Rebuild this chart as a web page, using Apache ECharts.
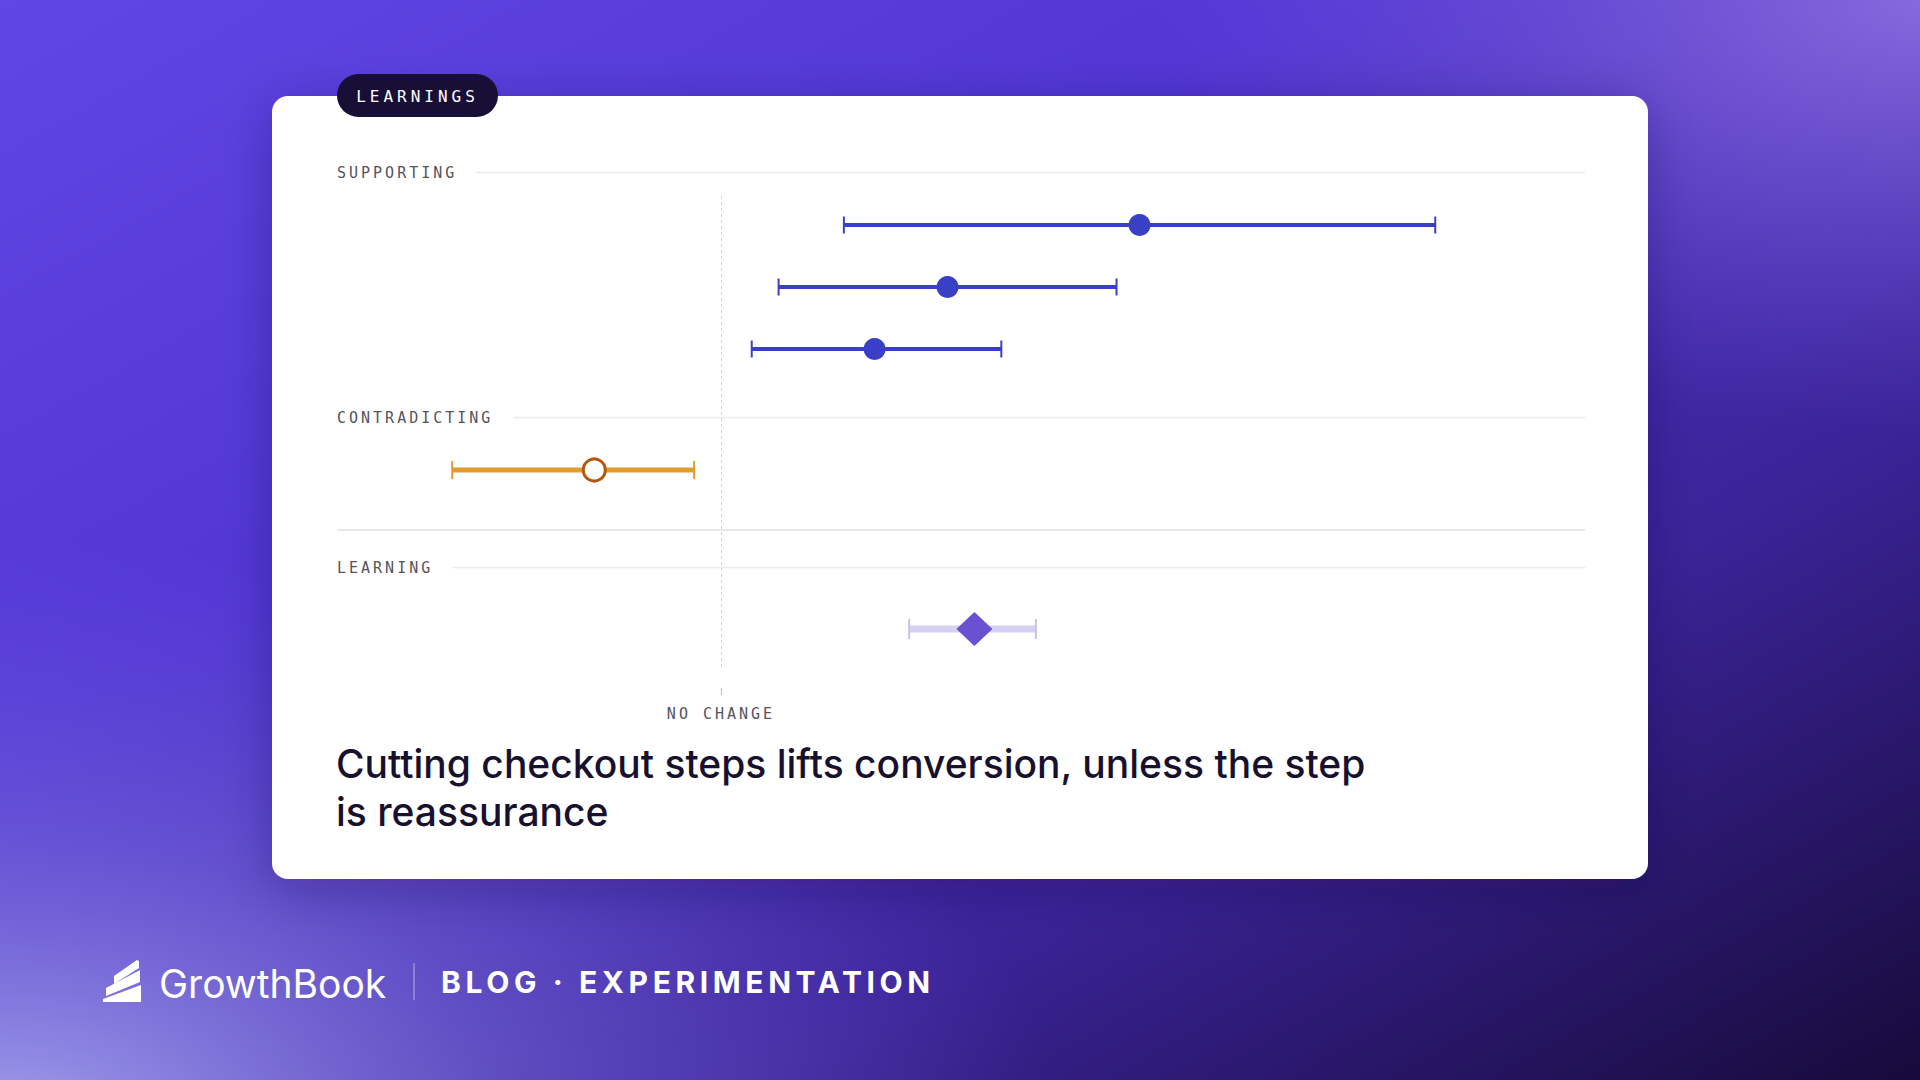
<!DOCTYPE html>
<html><head><meta charset="utf-8">
<script src="https://cdn.jsdelivr.net/npm/echarts@6/dist/echarts.min.js"></script>
<style>
html,body{margin:0;padding:0;width:1920px;height:1080px;overflow:hidden;background:#4a2fc6;}
#chart{width:1920px;height:1080px;}
#chart text[style*="lsA"]{letter-spacing:3px;}
#chart text[style*="lsB"]{letter-spacing:4px;}
#chart text[style*="lsC"]{letter-spacing:4.6px;}
</style></head><body><div id="chart"></div><script>
// ---- data ----
const badgeText = 'LEARNINGS';
const sectionNames = ['SUPPORTING', 'CONTRADICTING', 'LEARNING'];
const supportingRows = ['Supporting 1', 'Supporting 2', 'Supporting 3'];
const supportingLow  = [3.2, 1.5, 0.8];
const supportingMid  = [10.9, 5.9, 4.0];
const supportingHigh = [18.6, 10.3, 7.3];
const contradictingRows = ['Contradicting 1'];
const contradictingLow  = [-7.0];
const contradictingMid  = [-3.3];
const contradictingHigh = [-0.7];
const learningRows = ['Learning 1'];
const learningLow  = [4.9];
const learningMid  = [6.6];
const learningHigh = [8.2];
const xMin = -10, xMax = 22.5;
const zeroValue = [0];
const zeroLabel = 'NO CHANGE';
const titleLines = ['Cutting checkout steps lifts conversion, unless the step', 'is reassurance'];
const brandName = 'GrowthBook';
const footerText = 'BLOG \u00B7 EXPERIMENTATION';

// ---- styles ----
const MONO = 'lsA, "DejaVu Sans Mono", monospace';
const MONO_B = 'lsB, "DejaVu Sans Mono", monospace';
const FOOT = 'lsC, Inter, "Noto Sans", sans-serif';
const BLUE = '#3a40c6';

const chart = echarts.init(document.getElementById('chart'), null, {renderer: 'svg', width: 1920, height: 1080});

function errorBar(color, lw, capColor, capH, capW) {
  return function (params, api) {
    const cat = api.value(2);
    const a = api.coord([api.value(0), cat]);
    const b = api.coord([api.value(1), cat]);
    return {
      type: 'group',
      children: [
        {type: 'line', shape: {x1: a[0], y1: a[1], x2: b[0], y2: b[1]}, style: {stroke: color, lineWidth: lw}},
        {type: 'line', shape: {x1: a[0], y1: a[1] - capH / 2, x2: a[0], y2: a[1] + capH / 2}, style: {stroke: capColor, lineWidth: capW}},
        {type: 'line', shape: {x1: b[0], y1: b[1] - capH / 2, x2: b[0], y2: b[1] + capH / 2}, style: {stroke: capColor, lineWidth: capW}}
      ]
    };
  };
}
function ciData(rows, low, high) { return rows.map((r, i) => [low[i], high[i], i]); }
function midData(rows, mid) { return rows.map((r, i) => [mid[i], i]); }

const gridLeft = 337, gridWidth = 1248;
const xAxisBase = {type: 'value', min: xMin, max: xMax, show: false};

const bgGraphics = [
  {type: 'rect', shape: {x: 0, y: 0, width: 1920, height: 1080}, z: -10, silent: true,
    style: {fill: new echarts.graphic.LinearGradient(0, 0, 1, 1, [
      {offset: 0, color: '#6046e4'}, {offset: 0.35, color: '#5236d4'}, {offset: 0.7, color: '#3a2396'}, {offset: 1, color: '#170a3a'}])}},
  {type: 'rect', shape: {x: 0, y: 0, width: 1920, height: 1080}, z: -9, silent: true,
    style: {fill: new echarts.graphic.RadialGradient(0.0, 1.05, 0.55, [
      {offset: 0, color: 'rgba(170,170,240,0.95)'}, {offset: 0.5, color: 'rgba(130,120,225,0.45)'}, {offset: 1, color: 'rgba(110,90,220,0)'}])}},
  {type: 'rect', shape: {x: 0, y: 0, width: 1920, height: 1080}, z: -9, silent: true,
    style: {fill: new echarts.graphic.RadialGradient(1.0, 0.0, 0.4, [
      {offset: 0, color: 'rgba(150,120,230,0.8)'}, {offset: 1, color: 'rgba(120,90,220,0)'}])}},
  // card
  {type: 'rect', shape: {x: 272, y: 96, width: 1376, height: 783, r: 16}, z: -5, silent: true,
    style: {fill: '#ffffff', shadowBlur: 50, shadowColor: 'rgba(20,8,60,0.30)', shadowOffsetY: 10}},
  // badge
  {type: 'rect', shape: {x: 337, y: 74, width: 161, height: 43, r: 21.5}, z: -4, silent: true, style: {fill: '#170f36'}},
  {type: 'text', x: 417.5, y: 96, z: -3, silent: true,
    style: {text: badgeText, fill: '#ffffff', font: '500 16px ' + MONO_B, align: 'center', verticalAlign: 'middle'}},
  // section headers
  {type: 'text', x: 337, y: 173, z: -3, silent: true, style: {text: sectionNames[0], fill: '#55535e', font: '15px ' + MONO, verticalAlign: 'middle'}},
  {type: 'line', shape: {x1: 476, y1: 172.5, x2: 1585, y2: 172.5}, z: -4, silent: true, style: {stroke: '#ececf0', lineWidth: 1.5}},
  {type: 'text', x: 337, y: 418, z: -3, silent: true, style: {text: sectionNames[1], fill: '#55535e', font: '15px ' + MONO, verticalAlign: 'middle'}},
  {type: 'line', shape: {x1: 513, y1: 417.5, x2: 1585, y2: 417.5}, z: -4, silent: true, style: {stroke: '#ececf0', lineWidth: 1.5}},
  {type: 'line', shape: {x1: 337, y1: 530, x2: 1585, y2: 530}, z: -4, silent: true, style: {stroke: '#e0e0e4', lineWidth: 1.5}},
  {type: 'text', x: 337, y: 568, z: -3, silent: true, style: {text: sectionNames[2], fill: '#55535e', font: '15px ' + MONO, verticalAlign: 'middle'}},
  {type: 'line', shape: {x1: 452, y1: 567.5, x2: 1585, y2: 567.5}, z: -4, silent: true, style: {stroke: '#ececf0', lineWidth: 1.5}},
  // title
  {type: 'text', x: 336, y: 763, z: -3, silent: true, style: {text: titleLines[0], fill: '#17112f', font: '500 39px Inter, "Noto Sans", sans-serif', verticalAlign: 'middle'}},
  {type: 'text', x: 336, y: 811, z: -3, silent: true, style: {text: titleLines[1], fill: '#17112f', font: '500 39px Inter, "Noto Sans", sans-serif', verticalAlign: 'middle'}},
  // footer logo
  {type: 'polygon', shape: {points: [[114, 976], [137, 960], [139, 961], [139, 968], [114, 984]]}, z: -3, silent: true, style: {fill: '#ffffff'}},
  {type: 'polygon', shape: {points: [[106, 988], [140, 970], [140, 982], [106, 996]]}, z: -3, silent: true, style: {fill: '#ffffff'}},
  {type: 'polygon', shape: {points: [[103, 999], [141, 985], [141, 1002], [103, 1002]]}, z: -3, silent: true, style: {fill: '#ffffff'}},
  {type: 'text', x: 159, y: 983, z: -3, silent: true, style: {text: brandName, fill: '#ffffff', font: '400 39px Inter, "Noto Sans", sans-serif', verticalAlign: 'middle'}},
  {type: 'line', shape: {x1: 414, y1: 963, x2: 414, y2: 1000}, z: -3, silent: true, style: {stroke: 'rgba(255,255,255,0.35)', lineWidth: 1.5}},
  {type: 'text', x: 441, y: 982, z: -3, silent: true, style: {text: footerText, fill: '#ffffff', font: '700 30px ' + FOOT, verticalAlign: 'middle'}}
];

const option = {
  animation: false,
  graphic: bgGraphics,
  grid: [
    {left: gridLeft, width: gridWidth, top: 194, height: 186},
    {left: gridLeft, width: gridWidth, top: 439, height: 62},
    {left: gridLeft, width: gridWidth, top: 598, height: 62},
    {left: gridLeft, width: gridWidth, top: 196, height: 471},
    {left: gridLeft, width: gridWidth, top: 688, height: 7}
  ],
  xAxis: [
    Object.assign({gridIndex: 0}, xAxisBase),
    Object.assign({gridIndex: 1}, xAxisBase),
    Object.assign({gridIndex: 2}, xAxisBase),
    {gridIndex: 3, type: 'value', min: xMin, max: xMax, position: 'bottom', offset: 21,
      axisLine: {show: false}, splitLine: {show: false}, axisTick: {show: false},
      axisLabel: {show: true, customValues: zeroValue, formatter: () => zeroLabel, margin: 18,
        color: '#55535e', fontSize: 15, fontFamily: MONO}},
    Object.assign({gridIndex: 4}, xAxisBase)
  ],
  yAxis: [
    {gridIndex: 0, type: 'category', data: supportingRows, inverse: true, show: false},
    {gridIndex: 1, type: 'category', data: contradictingRows, inverse: true, show: false},
    {gridIndex: 2, type: 'category', data: learningRows, inverse: true, show: false},
    {gridIndex: 3, type: 'value', min: 0, max: 1, show: false},
    {gridIndex: 4, type: 'value', min: 0, max: 1, show: false}
  ],
  series: [
    {type: 'line', xAxisIndex: 3, yAxisIndex: 3, data: [], z: 1, silent: true,
      markLine: {symbol: 'none', silent: true, label: {show: false},
        lineStyle: {type: [3, 3], color: '#d2d2d6', width: 1}, data: [{xAxis: zeroValue[0]}]}},
    {type: 'line', xAxisIndex: 4, yAxisIndex: 4, data: [], z: 1, silent: true,
      markLine: {symbol: 'none', silent: true, label: {show: false},
        lineStyle: {type: 'solid', color: '#c4c4ca', width: 1.2}, data: [{xAxis: zeroValue[0]}]}},
    {type: 'custom', xAxisIndex: 0, yAxisIndex: 0, z: 3, renderItem: errorBar(BLUE, 4, BLUE, 17, 2),
      encode: {x: [0, 1], y: 2}, data: ciData(supportingRows, supportingLow, supportingHigh)},
    {type: 'scatter', xAxisIndex: 0, yAxisIndex: 0, z: 4, symbol: 'circle', symbolSize: 22,
      itemStyle: {color: BLUE, opacity: 1}, data: midData(supportingRows, supportingMid)},
    {type: 'custom', xAxisIndex: 1, yAxisIndex: 1, z: 3, renderItem: errorBar('#e49b2d', 5, '#e49b2d', 18, 2),
      encode: {x: [0, 1], y: 2}, data: ciData(contradictingRows, contradictingLow, contradictingHigh)},
    {type: 'scatter', xAxisIndex: 1, yAxisIndex: 1, z: 4, symbol: 'circle', symbolSize: 22,
      itemStyle: {color: '#ffffff', borderColor: '#b5560c', borderWidth: 3, opacity: 1}, data: midData(contradictingRows, contradictingMid)},
    {type: 'custom', xAxisIndex: 2, yAxisIndex: 2, z: 3, renderItem: errorBar('#d6d0f5', 7, '#c9c0f0', 20, 2),
      encode: {x: [0, 1], y: 2}, data: ciData(learningRows, learningLow, learningHigh)},
    {type: 'scatter', xAxisIndex: 2, yAxisIndex: 2, z: 4, symbol: 'diamond', symbolSize: [36, 34],
      itemStyle: {color: '#6a51d2', opacity: 1}, data: midData(learningRows, learningMid)}
  ]
};
chart.setOption(option);
</script></body></html>
